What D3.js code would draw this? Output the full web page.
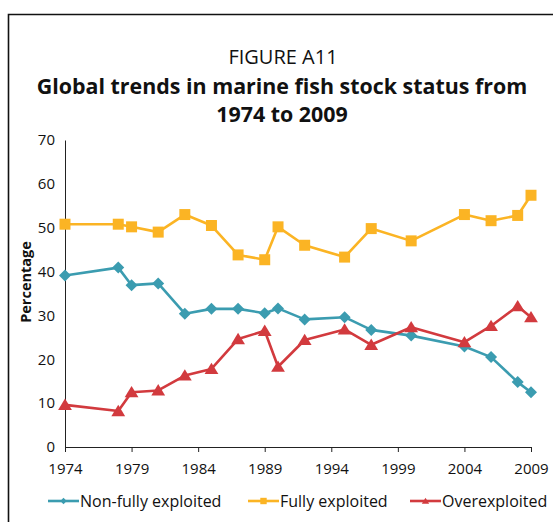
<!DOCTYPE html>
<html>
<head>
<meta charset="utf-8">
<script src="https://cdn.jsdelivr.net/npm/d3@7"></script>
<style>
  body { margin: 0; background: #fff; }
  svg { display: block; font-family: "Open Sans", "Noto Sans", sans-serif; }
</style>
</head>
<body>
<script>
// data
const years = [1974, 1978, 1979, 1981, 1983, 1985, 1987, 1989, 1990, 1992, 1995, 1997, 2000, 2004, 2006, 2008, 2009];
const nonFully = [39.1, 40.9, 36.9, 37.3, 30.4, 31.5, 31.5, 30.5, 31.6, 29.1, 29.6, 26.7, 25.4, 22.9, 20.5, 14.8, 12.5];
const fully = [50.8, 50.8, 50.2, 49.0, 53.0, 50.5, 43.8, 42.7, 50.2, 46.0, 43.3, 49.8, 47.0, 53.0, 51.6, 52.8, 57.4];
const over = [9.6, 8.2, 12.5, 12.9, 16.3, 17.8, 24.6, 26.5, 18.3, 24.4, 26.8, 23.3, 27.3, 23.9, 27.6, 32.1, 29.6];
const xTicks = [1974, 1979, 1984, 1989, 1994, 1999, 2004, 2009];
const yTicks = [0, 10, 20, 30, 40, 50, 60, 70];

const seriesList = [
  { name: "Non-fully exploited", values: nonFully, color: "#3b9cb0", symbol: "diamond" },
  { name: "Fully exploited", values: fully, color: "#fbb424", symbol: "square" },
  { name: "Overexploited", values: over, color: "#d23a3e", symbol: "triangle" }
];

const width = 553, height = 522;

const svg = d3.select("body").append("svg")
  .attr("width", width)
  .attr("height", height);

// frame (only top and left edges visible in the crop)
svg.append("path")
  .attr("d", "M8.5," + height + "V14.5H" + width)
  .attr("fill", "none")
  .attr("stroke", "#111")
  .attr("stroke-width", 1.6);

// titles
svg.append("text")
  .attr("x", 283).attr("y", 63.5)
  .attr("text-anchor", "middle")
  .attr("font-size", 20)
  .attr("fill", "#111")
  .text("FIGURE A11");

const titleLines = ["Global trends in marine fish stock status from", "1974 to 2009"];
svg.selectAll(".title")
  .data(titleLines)
  .enter().append("text")
  .attr("class", "title")
  .attr("x", 282)
  .attr("y", (d, i) => 93.5 + i * 28.5)
  .attr("text-anchor", "middle")
  .attr("font-size", 21.4)
  .attr("font-weight", "bold")
  .attr("fill", "#111")
  .text(d => d);

// scales
const x = d3.scaleLinear().domain([1974, 2009]).range([65, 531]);
const y = d3.scaleLinear().domain([0, 70]).range([447, 140]);

// axes
const xAxis = svg.append("g")
  .attr("transform", "translate(0," + y(0) + ")")
  .call(d3.axisBottom(x).tickValues(xTicks).tickFormat(d3.format("d")).tickSize(5).tickSizeOuter(0));
xAxis.select(".domain").attr("stroke", "#222");
xAxis.selectAll(".tick line").attr("stroke", "#222");
xAxis.selectAll(".tick text")
  .attr("font-size", 15)
  .attr("fill", "#111")
  .attr("dy", "0.71em")
  .attr("y", 16)
  .style("font-family", "'Open Sans', sans-serif");

const yAxis = svg.append("g")
  .attr("transform", "translate(" + x(1974) + ",0)")
  .call(d3.axisLeft(y).tickValues(yTicks).tickSize(0).tickPadding(10));
yAxis.select(".domain").attr("stroke", "#222");
yAxis.selectAll(".tick text")
  .attr("font-size", 15)
  .attr("fill", "#111")
  .style("font-family", "'Open Sans', sans-serif");

svg.append("text")
  .attr("transform", "translate(31,282) rotate(-90)")
  .attr("text-anchor", "middle")
  .attr("font-size", 14.5)
  .attr("font-weight", "bold")
  .attr("fill", "#111")
  .text("Percentage");

// symbols
function markerPath(symbol, s) {
  if (symbol === "diamond") {
    return "M0," + (-s) + "L" + s + ",0L0," + s + "L" + (-s) + ",0Z";
  }
  if (symbol === "square") {
    return "M" + (-s) + "," + (-s) + "H" + s + "V" + s + "H" + (-s) + "Z";
  }
  // triangle
  return "M0," + (-s * 1.05) + "L" + (s * 1.15) + "," + (s * 0.85) + "L" + (-s * 1.15) + "," + (s * 0.85) + "Z";
}
const markerSize = { diamond: 6, square: 5.5, triangle: 6 };

const line = d3.line()
  .x((d, i) => x(years[i]))
  .y(d => y(d));

seriesList.forEach(s => {
  const g = svg.append("g");
  g.append("path")
    .datum(s.values)
    .attr("fill", "none")
    .attr("stroke", s.color)
    .attr("stroke-width", 2.6)
    .attr("stroke-linejoin", "round")
    .attr("d", line);
  g.selectAll("path.mk")
    .data(s.values)
    .enter().append("path")
    .attr("class", "mk")
    .attr("transform", (d, i) => "translate(" + x(years[i]) + "," + y(d) + ")")
    .attr("d", markerPath(s.symbol, markerSize[s.symbol]))
    .attr("fill", s.color);
});

// legend
const legendX = [48, 248, 410];
const legendY = 501;
const legend = svg.selectAll(".legend")
  .data(seriesList)
  .enter().append("g")
  .attr("class", "legend")
  .attr("transform", (d, i) => "translate(" + legendX[i] + "," + legendY + ")");
legend.append("line")
  .attr("x1", 0).attr("x2", 31)
  .attr("stroke", d => d.color)
  .attr("stroke-width", 2.6);
legend.append("path")
  .attr("transform", "translate(15.5,0)")
  .attr("d", d => markerPath(d.symbol, 3.2))
  .attr("fill", d => d.color);
legend.append("text")
  .attr("x", 32)
  .attr("dy", "0.35em")
  .attr("font-size", 16)
  .attr("fill", "#111")
  .text(d => d.name);
</script>
</body>
</html>
